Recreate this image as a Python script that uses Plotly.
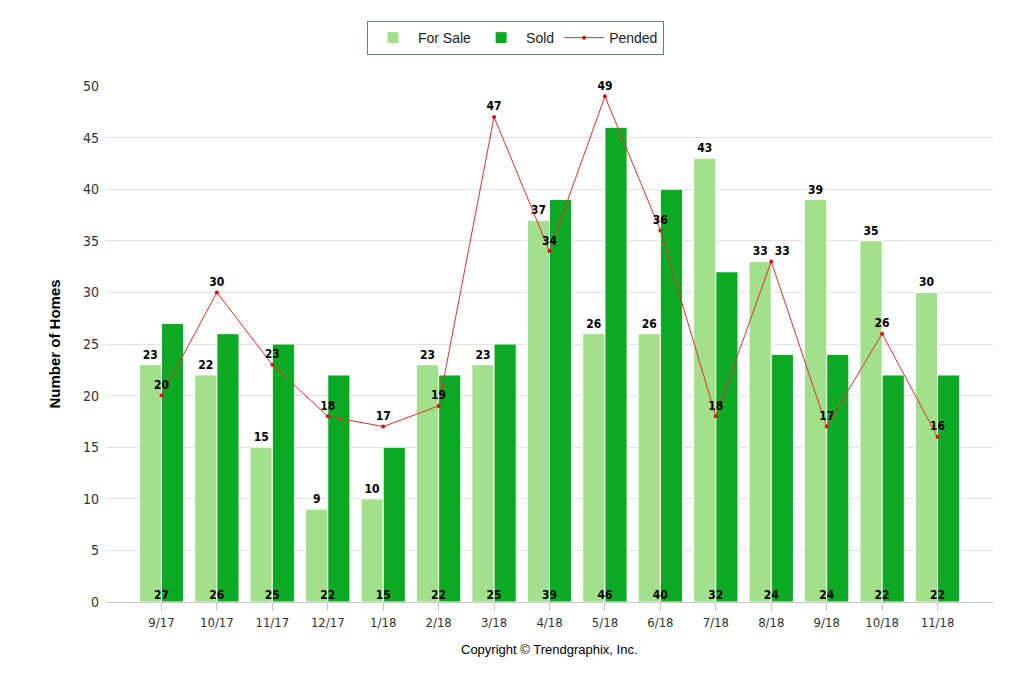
import plotly.graph_objects as go

months = ["9/17", "10/17", "11/17", "12/17", "1/18", "2/18", "3/18", "4/18",
          "5/18", "6/18", "7/18", "8/18", "9/18", "10/18", "11/18"]
for_sale = [23, 22, 15, 9, 10, 23, 23, 37, 26, 26, 43, 33, 39, 35, 30]
sold = [27, 26, 25, 22, 15, 22, 25, 39, 46, 40, 32, 24, 24, 22, 22]
pended = [20, 30, 23, 18, 17, 19, 47, 34, 49, 36, 18, 33, 17, 26, 16]

COND = "DejaVu Sans Condensed, Roboto Condensed, Liberation Sans Narrow, DejaVu Sans"
LABEL_FONT = dict(family=COND, size=12, color="#000000")
TICK_FONT = dict(family=COND, size=13, color="#333333")

# Pended label for 8/18 sits right of its point (next to the For Sale label)
pended_pos = ["top center"] * len(pended)
pended_pos[11] = "top right"

fig = go.Figure()
fig.add_trace(go.Bar(
    name="For Sale", x=months, y=for_sale,
    marker=dict(color="#a3e08b", line=dict(color="#ffffff", width=1)),
    text=[str(v) for v in for_sale], textposition="outside",
    textfont=dict(LABEL_FONT, weight="bold"), cliponaxis=False,
))
fig.add_trace(go.Bar(
    name="Sold", x=months, y=sold,
    marker=dict(color="#0caa24", line=dict(color="#ffffff", width=1)),
))
fig.add_trace(go.Scatter(
    name="Pended", x=months, y=pended, mode="lines+markers+text",
    line=dict(color="#e03030", width=1),
    marker=dict(color="#d81010", size=4),
    text=[str(v) for v in pended], textposition=pended_pos,
    textfont=dict(LABEL_FONT, weight="bold"), cliponaxis=False,
))
# Sold labels at the bottom of each category
fig.add_trace(go.Scatter(
    x=months, y=[0] * len(sold), mode="text",
    text=[str(v) for v in sold], textposition="top center",
    textfont=dict(LABEL_FONT, weight="bold"), showlegend=False,
    hoverinfo="skip", cliponaxis=False,
))

fig.update_layout(
    width=1030, height=687,
    margin=dict(l=98, r=45, t=78, b=93),
    paper_bgcolor="#ffffff", plot_bgcolor="#ffffff",
    barmode="group", bargap=0.2, bargroupgap=0,
    font=dict(family="Liberation Sans, Arial, sans-serif", color="#333333"),
    legend=dict(
        orientation="h", xref="container", yref="container",
        x=0.4927, xanchor="center", y=0.981, yanchor="top",
        bordercolor="#6d7a96", borderwidth=1, bgcolor="#ffffff",
        font=dict(family="Liberation Sans, Arial, sans-serif", size=14, color="#222222"),
        itemwidth=40,
    ),
    xaxis=dict(
        type="category", range=[-1, 15],
        showgrid=False, showline=True, linecolor="#c8c8c8", linewidth=1,
        ticks="outside", ticklen=8, tickcolor="#c8c8c8",
        tickfont=TICK_FONT,
    ),
    yaxis=dict(
        range=[0, 50], dtick=5, showgrid=True, gridcolor="#e3e3e3", gridwidth=1,
        zeroline=False, showline=False, tickfont=dict(TICK_FONT, size=14),
        ticks="", ticklabelstandoff=6,
        title=dict(text="<b>Number of Homes</b>", standoff=18,
                   font=dict(family="Liberation Sans, Arial, sans-serif", size=15, color="#000000")),
    ),
    annotations=[dict(
        text="Copyright © Trendgraphix, Inc.", xref="paper", yref="paper",
        x=0.5, y=-0.092, xanchor="center", yanchor="middle", showarrow=False,
        font=dict(family="Liberation Sans, Arial, sans-serif", size=13, color="#000000"),
    )],
)

fig.write_html("out.html")
